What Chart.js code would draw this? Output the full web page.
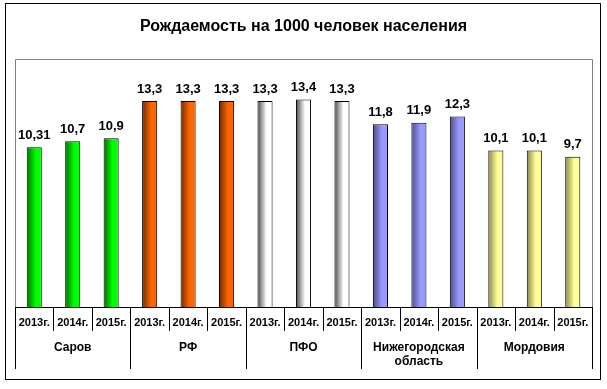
<!DOCTYPE html>
<html>
<head>
<meta charset="utf-8">
<script src="https://cdn.jsdelivr.net/npm/chart.js@4"></script>
<style>
  html, body { margin: 0; padding: 0; background: #ffffff; }
  #wrap { width: 607px; height: 389px; position: relative; }
</style>
</head>
<body>
<div id="wrap"><canvas id="chart" width="607" height="389"></canvas></div>
<script>
// ── Data ──────────────────────────────────────────────────────────────────
const TITLE = 'Рождаемость на 1000 человек населения';
const YEARS = ['2013г.', '2014г.', '2015г.'];
const GROUPS = ['Саров', 'РФ', 'ПФО', ['Нижегородская', 'область'], 'Мордовия'];
const SAROV = [10.31, 10.7, 10.9];
const RF = [13.3, 13.3, 13.3];
const PFO = [13.3, 13.4, 13.3];
const NIZHNY = [11.8, 11.9, 12.3];
const MORDOVIA = [10.1, 10.1, 9.7];

// [dark edge, main colour] per group
const GROUP_COLORS = [
    ['#006e00', '#00ff00'],
    ['#6e2a00', '#ff6600'],
    ['#4a4a4a', '#ffffff'],
    ['#4c4c88', '#9999ff'],
    ['#88884c', '#ffff99'],
];

const FONT = '"Liberation Sans", Arial, sans-serif';
const labels = GROUPS.flatMap(() => YEARS);
const values = [...SAROV, ...RF, ...PFO, ...NIZHNY, ...MORDOVIA];

const CAT_PCT = 0.8;
const BAR_PCT = 0.49;

// Horizontal dark → colour gradient for one bar, placed through the x scale.
function barFill(context) {
    if (context.type !== 'data') return '#cccccc';
    const i = context.dataIndex;
    const [dark, light] = GROUP_COLORS[Math.floor(i / 3)];
    const xs = context.chart.scales.x;
    if (!xs) return light;
    const cx = xs.getPixelForValue(i);
    const half = (xs.width / labels.length) * CAT_PCT * BAR_PCT / 2;
    if (!isFinite(cx) || !isFinite(half) || half <= 0) return light;
    const g = context.chart.ctx.createLinearGradient(cx - half, 0, cx + half, 0);
    g.addColorStop(0, dark);
    g.addColorStop(0.6, light);
    g.addColorStop(1, light);
    return g;
}

// ── Plugins ───────────────────────────────────────────────────────────────

// Outer frame + grey plot-area frame.
const framePlugin = {
    id: 'frame',
    beforeDraw(chart) {
        const { ctx, chartArea: a } = chart;
        ctx.save();
        ctx.fillStyle = '#ffffff';
        ctx.fillRect(0, 0, chart.width, chart.height);
        ctx.strokeStyle = '#000000';
        ctx.lineWidth = 1;
        ctx.strokeRect(5.5, 3.5, 595, 376);
        ctx.strokeStyle = '#808080';
        ctx.beginPath();
        ctx.moveTo(Math.round(a.left) + 0.5, Math.round(a.bottom));
        ctx.lineTo(Math.round(a.left) + 0.5, Math.round(a.top) + 0.5);
        ctx.lineTo(Math.round(a.right) + 0.5, Math.round(a.top) + 0.5);
        ctx.lineTo(Math.round(a.right) + 0.5, Math.round(a.bottom));
        ctx.stroke();
        ctx.restore();
    },
};

// Value labels above bars and the category separator lines.
const labelsPlugin = {
    id: 'valueLabels',
    afterDatasetsDraw(chart) {
        const { ctx } = chart;
        ctx.save();
        ctx.font = `bold 13px ${FONT}`;
        ctx.fillStyle = '#000000';
        ctx.textAlign = 'center';
        ctx.textBaseline = 'middle';
        chart.getDatasetMeta(0).data.forEach((el, i) => {
            ctx.fillText(String(values[i]).replace('.', ','), el.x, el.y - 12);
        });
        ctx.restore();
    },
    afterDraw(chart) {
        const { ctx } = chart;
        const xs = chart.scales.x;
        const n = labels.length;
        const w = (xs.right - xs.left) / n;
        const top = Math.round(xs.top);
        ctx.save();
        ctx.strokeStyle = '#000000';
        ctx.lineWidth = 1;
        ctx.beginPath();
        for (let i = 0; i <= n; i++) {
            const x = Math.round(xs.left + i * w) + 0.5;
            ctx.moveTo(x, top);
            ctx.lineTo(x, i % 3 === 0 ? top + 62 : top + 24);
        }
        ctx.stroke();
        ctx.restore();
    },
};

new Chart(document.getElementById('chart'), {
    type: 'bar',
    data: {
        labels,
        datasets: [{
            data: values,
            backgroundColor: barFill,
            borderColor: '#000000',
            borderWidth: 1,
            categoryPercentage: CAT_PCT,
            barPercentage: BAR_PCT,
        }],
    },
    options: {
        responsive: false,
        animation: false,
        events: [],
        layout: { padding: { left: 15, right: 15, top: 0, bottom: 16 } },
        scales: {
            y: { display: false, min: 0, max: 16 },
            x: {
                offset: true,
                grid: { display: false, drawTicks: false },
                border: { display: true, color: '#000000', width: 1 },
                ticks: { color: '#000000', font: { family: FONT, size: 11, weight: 'bold' }, padding: 9, maxRotation: 0, autoSkip: false },
                afterFit: s => { s.height = 26; },
            },
            x2: {
                type: 'category',
                position: 'bottom',
                labels: GROUPS,
                offset: true,
                grid: { display: false, drawTicks: false },
                border: { display: false },
                ticks: { color: '#000000', font: { family: FONT, size: 12, weight: 'bold' }, padding: 7, maxRotation: 0, autoSkip: false },
                afterFit: s => { s.height = 40; },
            },
        },
        plugins: {
            legend: { display: false },
            tooltip: { enabled: false },
            title: {
                display: true,
                text: TITLE,
                color: '#000000',
                font: { family: FONT, size: 16, weight: 'bold' },
                padding: { top: 17, bottom: 23 },
            },
        },
    },
    plugins: [framePlugin, labelsPlugin],
});
</script>
</body>
</html>
